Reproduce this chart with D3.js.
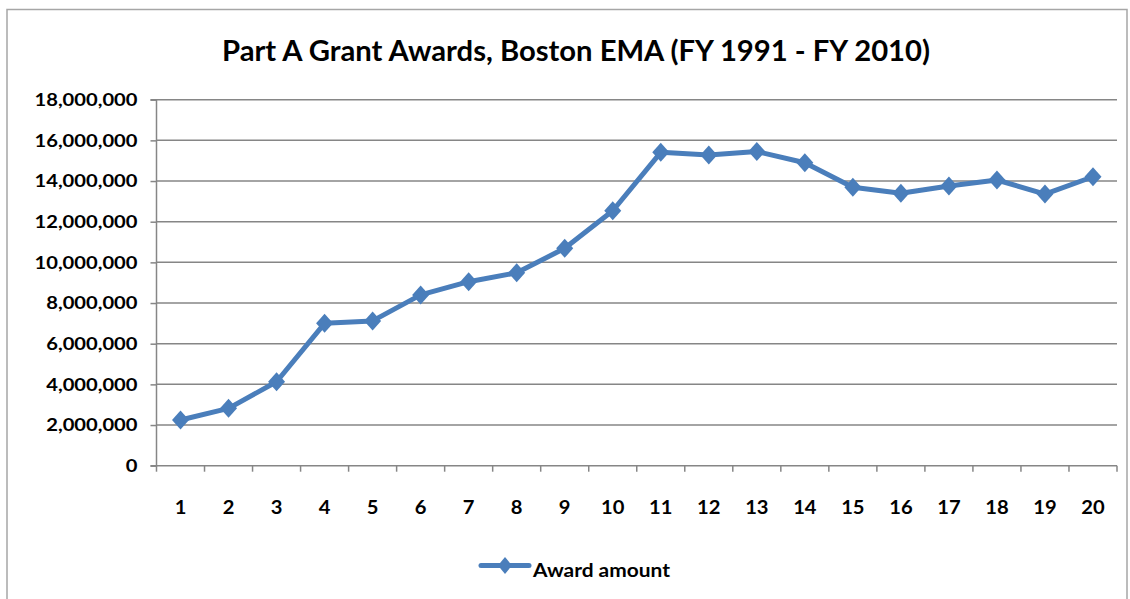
<!DOCTYPE html>
<html><head><meta charset="utf-8">
<script src="https://cdn.jsdelivr.net/npm/d3@7"></script>
<style>
html,body{margin:0;padding:0;background:#fff;}
svg{display:block;}
text{font-family:Lato,"Open Sans","Liberation Sans",Arial,sans-serif;font-weight:bold;fill:#000;}
</style></head>
<body>
<script>
const categories = ["1","2","3","4","5","6","7","8","9","10","11","12","13","14","15","16","17","18","19","20"];
const awardAmount = [2250000,2820000,4130000,7000000,7120000,8400000,9050000,9490000,10690000,12540000,15410000,15280000,15450000,14900000,13690000,13400000,13760000,14050000,13360000,14210000];
const yTicks = [0,2000000,4000000,6000000,8000000,10000000,12000000,14000000,16000000,18000000];
const title = "Part A Grant Awards, Boston EMA (FY 1991 - FY 2010)";
const seriesName = "Award amount";

const W = 1130, H = 599;
const svg = d3.select("body").append("svg").attr("width", W).attr("height", H);
const m = {left:156.5, right:1117, top:99.7, bottom:465.7};
const blue = "#4a7ebb", grid = "#868686";

// horizontal stretch helper: fit text to reference widths
function stretch(sel, k){
  sel.each(function(){
    const w = this.getComputedTextLength();
    d3.select(this).attr("textLength", w*k).attr("lengthAdjust","spacingAndGlyphs");
  });
}

svg.append("rect").attr("x",7).attr("y",9.5).attr("width",1120).attr("height",620)
  .attr("fill","#fff").attr("stroke","#a6a6a6").attr("stroke-width",1.5);

const x = d3.scaleBand().domain(categories).range([m.left, m.right]);
const y = d3.scaleLinear().domain([0,18000000]).range([m.bottom, m.top]);

// gridlines
svg.append("g").selectAll("line").data(yTicks.slice(1)).join("line")
  .attr("x1", m.left).attr("x2", m.right)
  .attr("y1", d=>y(d)).attr("y2", d=>y(d))
  .attr("stroke", grid).attr("stroke-width",1.5);

// y axis
const yAxis = d3.axisLeft(y).tickValues(yTicks).tickSize(6).tickPadding(13)
  .tickFormat(d => d===0 ? "0" : d3.format(",")(d));
const gy = svg.append("g").attr("transform",`translate(${m.left},0)`).call(yAxis);
gy.select(".domain").attr("stroke",grid).attr("stroke-width",1.5).attr("d",`M-6,${m.bottom}H0V${m.top}H-6`);
gy.selectAll(".tick line").attr("stroke",grid).attr("stroke-width",1.5);
const yLab = gy.selectAll("text").style("font-size","16.5px").attr("dy","0.36em");
{
  const ref = yLab.filter(d=>d===18000000).node().getComputedTextLength();
  stretch(yLab, 103/ref);
}

// x axis
const xAxis = d3.axisBottom(x).tickSize(0);
const gx = svg.append("g").attr("transform",`translate(0,${m.bottom})`).call(xAxis);
gx.select(".domain").attr("stroke",grid).attr("stroke-width",1.5).attr("d",`M${m.left},0H${m.right}`);
const xLab = gx.selectAll("text").style("font-size","18px").attr("y",48.5).attr("dy","0");
stretch(xLab, 1.12);
const bw = x.bandwidth();
svg.append("g").selectAll("line").data(d3.range(categories.length+1)).join("line")
  .attr("x1", i=>m.left + i*bw).attr("x2", i=>m.left + i*bw)
  .attr("y1", m.bottom).attr("y2", m.bottom+6)
  .attr("stroke",grid).attr("stroke-width",1.5);

// line
const cx = d => x(d) + bw/2;
const line = d3.line().x((d,i)=>cx(categories[i])).y(d=>y(d));
svg.append("path").datum(awardAmount).attr("d",line)
  .attr("fill","none").attr("stroke",blue).attr("stroke-width",5).attr("stroke-linejoin","round");

const diamondPath = (hw,hh) => `M0,${-hh}L${hw},0L0,${hh}L${-hw},0Z`;
svg.append("g").selectAll("path").data(awardAmount).join("path")
  .attr("d", diamondPath(8.5,9.5))
  .attr("transform",(d,i)=>`translate(${cx(categories[i])},${y(d)})`)
  .attr("fill",blue);

// title
const t = svg.append("text").attr("x",576).attr("y",61).attr("text-anchor","middle")
  .style("font-size","29px").text(title);
t.attr("textLength",708).attr("lengthAdjust","spacingAndGlyphs");

// legend
const lg = svg.append("g");
lg.append("line").attr("x1",481).attr("x2",529).attr("y1",565.5).attr("y2",565.5)
  .attr("stroke",blue).attr("stroke-width",5).attr("stroke-linecap","round");
lg.append("path").attr("d",diamondPath(7,8.5)).attr("transform","translate(505,565.5)").attr("fill",blue);
lg.append("text").attr("x",533).attr("y",577).style("font-size","19px").text(seriesName)
  .attr("textLength",137).attr("lengthAdjust","spacingAndGlyphs");
</script>
</body></html>
